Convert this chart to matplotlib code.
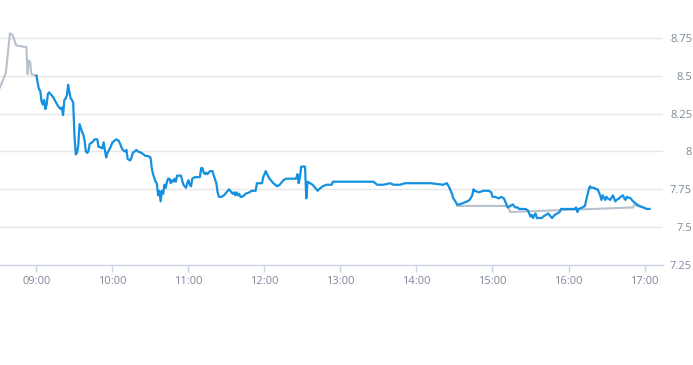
import matplotlib
matplotlib.use("Agg")
import matplotlib.pyplot as plt
import matplotlib.dates as mdates
import pandas as pd

# --- data ---
day = "2024-01-02 "

pre_times = ["08:31", "08:35", "08:36", "08:39", "08:41", "08:44", "08:51", "08:52",
             "08:53", "08:54", "08:55", "08:56", "09:00"]
pre_prices = [8.42, 8.50, 8.53, 8.78, 8.77, 8.70, 8.69, 8.69,
              8.51, 8.60, 8.59, 8.51, 8.50]

main_times = [
    "09:00", "09:01", "09:02", "09:03", "09:04", "09:05", "09:06", "09:07", "09:08", "09:09",
    "09:10", "09:11", "09:13", "09:15", "09:17", "09:19", "09:20", "09:21", "09:22", "09:23",
    "09:24", "09:25", "09:26", "09:27", "09:28", "09:29", "09:30", "09:31", "09:32", "09:33",
    "09:34", "09:36", "09:37", "09:38", "09:39", "09:40", "09:41", "09:42", "09:44", "09:46",
    "09:48", "09:49", "09:50", "09:52", "09:53", "09:54", "09:55", "09:56", "09:58", "10:00",
    "10:03", "10:05", "10:06", "10:08", "10:10", "10:11", "10:12", "10:14", "10:15", "10:16",
    "10:19", "10:20", "10:23", "10:26", "10:28", "10:30", "10:31", "10:32", "10:34", "10:35",
    "10:36", "10:37", "10:38", "10:39", "10:40", "10:41", "10:42", "10:43", "10:44", "10:45",
    "10:46", "10:47", "10:48", "10:49", "10:50", "10:51", "10:54", "10:56", "10:58", "10:59",
    "11:00", "11:01", "11:02", "11:03", "11:05", "11:09", "11:10", "11:11", "11:12", "11:13",
    "11:14", "11:15", "11:17", "11:19", "11:20", "11:22", "11:23", "11:24", "11:26", "11:28",
    "11:30", "11:32", "11:33", "11:35", "11:36", "11:37", "11:38", "11:39", "11:40", "11:41",
    "11:42", "11:44", "11:45", "11:48", "11:50", "11:52", "11:53", "11:54", "11:56", "11:58",
    "11:59", "12:01", "12:02", "12:04", "12:06", "12:07", "12:10", "12:12", "12:14", "12:15",
    "12:17", "12:25", "12:26", "12:27", "12:28", "12:29", "12:31", "12:32", "12:33", "12:34",
    "12:36", "12:38", "12:42", "12:43", "12:46", "12:49", "12:53", "12:54", "13:26", "13:29",
    "13:34", "13:39", "13:42", "13:47", "13:51", "14:11", "14:21", "14:24", "14:26", "14:28",
    "14:29", "14:30", "14:32", "14:34", "14:37", "14:40", "14:42", "14:44", "14:45", "14:46",
    "14:49", "14:53", "14:57", "14:59", "15:00", "15:02", "15:05", "15:07", "15:09", "15:10",
    "15:12", "15:14", "15:16", "15:18", "15:20", "15:21", "15:26", "15:28", "15:30", "15:31",
    "15:32", "15:33", "15:34", "15:35", "15:37", "15:39", "15:40", "15:42", "15:44", "15:45",
    "15:47", "15:49", "15:51", "15:53", "15:54", "16:05", "16:06", "16:07", "16:08", "16:11",
    "16:13", "16:14", "16:16", "16:17", "16:18", "16:20", "16:22", "16:23", "16:25", "16:26",
    "16:27", "16:29", "16:30", "16:31", "16:33", "16:35", "16:37", "16:38", "16:40", "16:41",
    "16:43", "16:44", "16:45", "16:46", "16:49", "16:51", "16:54", "16:56", "16:59", "17:02",
    "17:04",
]
main_prices = [
    8.50, 8.45, 8.41, 8.40, 8.33, 8.31, 8.34, 8.28, 8.31, 8.38,
    8.39, 8.38, 8.36, 8.33, 8.30, 8.28, 8.29, 8.24, 8.34, 8.35,
    8.37, 8.44, 8.39, 8.35, 8.34, 8.32, 8.10, 7.98, 7.99, 8.04,
    8.18, 8.13, 8.11, 8.07, 8.00, 7.99, 8.00, 8.05, 8.06, 8.08,
    8.08, 8.03, 8.03, 8.02, 8.06, 8.01, 7.96, 7.99, 8.02, 8.06,
    8.08, 8.07, 8.05, 8.01, 8.00, 8.01, 7.95, 7.94, 7.96, 7.99,
    8.01, 8.00, 7.99, 7.97, 7.97, 7.96, 7.89, 7.85, 7.80, 7.79,
    7.71, 7.74, 7.67, 7.74, 7.72, 7.78, 7.76, 7.80, 7.82, 7.82,
    7.79, 7.81, 7.80, 7.82, 7.80, 7.84, 7.84, 7.78, 7.76, 7.79,
    7.81, 7.78, 7.77, 7.82, 7.83, 7.83, 7.89, 7.89, 7.86, 7.85,
    7.86, 7.85, 7.87, 7.87, 7.84, 7.79, 7.73, 7.70, 7.70, 7.71,
    7.73, 7.75, 7.74, 7.72, 7.73, 7.71, 7.73, 7.71, 7.72, 7.70,
    7.70, 7.71, 7.72, 7.73, 7.74, 7.74, 7.74, 7.79, 7.79, 7.79,
    7.83, 7.87, 7.85, 7.82, 7.80, 7.79, 7.77, 7.78, 7.80, 7.81,
    7.82, 7.82, 7.85, 7.79, 7.83, 7.90, 7.90, 7.90, 7.69, 7.80,
    7.79, 7.78, 7.74, 7.75, 7.77, 7.78, 7.78, 7.80, 7.80, 7.78,
    7.78, 7.79, 7.78, 7.78, 7.79, 7.79, 7.78, 7.79, 7.76, 7.72,
    7.69, 7.68, 7.65, 7.65, 7.66, 7.67, 7.68, 7.71, 7.75, 7.74,
    7.73, 7.74, 7.74, 7.73, 7.70, 7.70, 7.69, 7.70, 7.69, 7.67,
    7.63, 7.64, 7.65, 7.63, 7.63, 7.62, 7.62, 7.61, 7.57, 7.58,
    7.56, 7.58, 7.59, 7.56, 7.56, 7.56, 7.57, 7.58, 7.59, 7.58,
    7.56, 7.58, 7.59, 7.60, 7.62, 7.62, 7.63, 7.60, 7.62, 7.63,
    7.64, 7.68, 7.75, 7.77, 7.76, 7.76, 7.75, 7.75, 7.71, 7.68,
    7.71, 7.68, 7.70, 7.69, 7.68, 7.71, 7.67, 7.68, 7.69, 7.70,
    7.71, 7.69, 7.68, 7.70, 7.69, 7.67, 7.65, 7.64, 7.63, 7.62,
    7.62,
]

ref_times = ["14:32", "15:12", "15:14", "16:51", "16:52", "16:54", "16:59", "17:01"]
ref_prices = [7.64, 7.64, 7.60, 7.63, 7.65, 7.64, 7.63, 7.62]

y_ticks = [7.25, 7.5, 7.75, 8, 8.25, 8.5, 8.75]
y_labels = ["7.25", "7.5", "7.75", "8", "8.25", "8.5", "8.75"]
x_ticks = ["09:00", "10:00", "11:00", "12:00", "13:00", "14:00", "15:00", "16:00", "17:00"]


def to_dt(times):
    return pd.to_datetime([day + t for t in times])


BLUE = "#1390e0"
GREY = "#b8c1cb"
LABEL = "#7d8799"

fig = plt.figure(figsize=(6.93, 3.65), dpi=100)
ax = fig.add_axes([0, 100 / 365, 663 / 693, 265 / 365])

ax.plot(to_dt(pre_times), pre_prices, color=GREY, lw=1.5, zorder=2)
ax.plot(to_dt(ref_times), ref_prices, color=GREY, lw=1.5, zorder=2)
ax.plot(to_dt(main_times), main_prices, color=BLUE, lw=1.6, zorder=3)

ax.set_xlim(pd.Timestamp(day + "08:31:12"), pd.Timestamp(day + "17:14:36"))
ax.set_ylim(7.25, 9.0)

ax.set_yticks(y_ticks)
ax.set_yticklabels(y_labels)
ax.yaxis.tick_right()
ax.tick_params(axis="y", length=0, pad=21, labelsize=8, labelcolor=LABEL)
for lab in ax.get_yticklabels():
    lab.set_horizontalalignment("right")
ax.grid(axis="y", color="#e6e6e6", lw=1, zorder=0)

ax.set_xticks(to_dt(x_ticks))
ax.xaxis.set_major_formatter(mdates.DateFormatter("%H:%M"))
ax.tick_params(axis="x", length=5, width=1, color="#ccd6eb", pad=3,
               labelsize=8, labelcolor=LABEL)

for side in ["top", "left", "right"]:
    ax.spines[side].set_visible(False)
ax.spines["bottom"].set_color("#ccd6eb")
ax.spines["bottom"].set_linewidth(1)
ax.spines["bottom"].set_zorder(1)

for lab in ax.get_xticklabels() + ax.get_yticklabels():
    lab.set_fontfamily("Open Sans")

fig.savefig("out.png", dpi=100)
